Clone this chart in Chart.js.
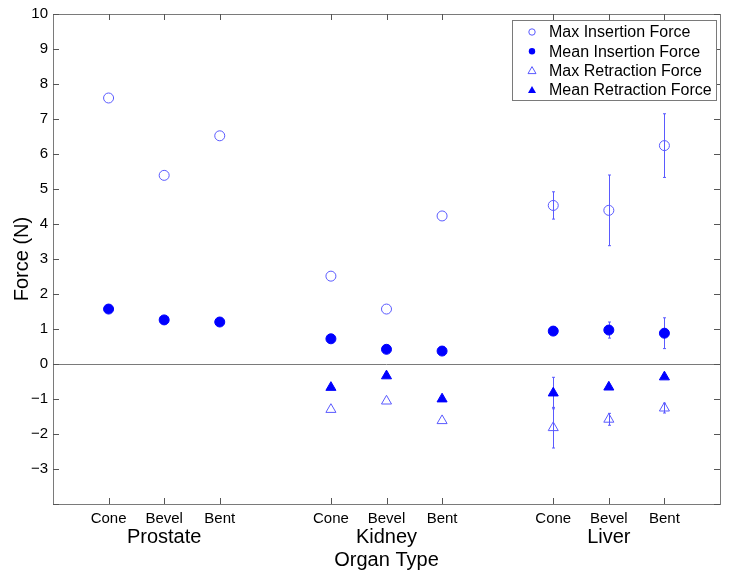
<!DOCTYPE html>
<html lang="en">

<head>
  <meta charset="UTF-8">
  <title>Needle Force by Organ Type</title>
  <script src="https://cdn.jsdelivr.net/npm/chart.js"></script>
  <style>
    body { margin: 0; background: #fff; }
    #wrap { width: 729px; height: 578px; }
  </style>
</head>

<body>
  <div id="wrap"><canvas id="chart"></canvas></div>

  <script>
    // tip types per organ, placed at x = 1..3, 5..7, 9..11
    const categories = ["Cone", "Bevel", "Bent", "Cone", "Bevel", "Bent", "Cone", "Bevel", "Bent"];
    const positions = [1, 2, 3, 5, 6, 7, 9, 10, 11];
    const organs = ["Prostate", "Kidney", "Liver"];
    const organCenters = [2, 6, 10];
    const yTicks = [-4, -3, -2, -1, 0, 1, 2, 3, 4, 5, 6, 7, 8, 9, 10];

    const maxInsertion = [7.6, 5.39, 6.52, 2.51, 1.57, 4.23, 4.53, 4.39, 6.24];
    const maxInsertionErr = [0, 0, 0, 0, 0, 0, 0.39, 1.01, 0.91];
    const meanInsertion = [1.57, 1.26, 1.2, 0.72, 0.42, 0.37, 0.94, 0.97, 0.88];
    const meanInsertionErr = [0, 0, 0, 0, 0, 0, 0.04, 0.23, 0.44];
    const maxRetraction = [null, null, null, -1.3, -1.06, -1.62, -1.82, -1.58, -1.26];
    const maxRetractionErr = [0, 0, 0, 0, 0, 0, 0.58, 0.17, 0.14];
    const meanRetraction = [null, null, null, -0.67, -0.34, -1.0, -0.83, -0.66, -0.37];
    const meanRetractionErr = [0, 0, 0, 0, 0, 0, 0.45, 0, 0];

    const FONT = '"Liberation Sans", Arial, Helvetica, sans-serif';
    const lightBlue = "#5a5aff";
    const blue = "#0000ff";
    const axisGrey = "#7a7a7a";

    const series = [
      { label: "Max Insertion Force", values: maxInsertion, errors: maxInsertionErr, style: "circle", filled: false },
      { label: "Mean Insertion Force", values: meanInsertion, errors: meanInsertionErr, style: "circle", filled: true },
      { label: "Max Retraction Force", values: maxRetraction, errors: maxRetractionErr, style: "triangle", filled: false },
      { label: "Mean Retraction Force", values: meanRetraction, errors: meanRetractionErr, style: "triangle", filled: true }
    ];

    const toPoints = vals => positions.map((x, i) => ({ x: x, y: vals[i] })).filter(p => p.y !== null);

    // frame, zero line, inward ticks, organ names and error bars
    const framePlugin = {
      id: "frame",
      beforeDatasetsDraw(chart) {
        const { ctx, chartArea: a, scales: { x, y } } = chart;
        ctx.save();
        ctx.strokeStyle = axisGrey;
        ctx.lineWidth = 1;
        ctx.strokeRect(Math.round(a.left) + 0.5, Math.round(a.top) + 0.5, Math.round(a.right - a.left), Math.round(a.bottom - a.top));

        const y0 = Math.round(y.getPixelForValue(0)) + 0.5;
        ctx.beginPath();
        ctx.moveTo(a.left, y0);
        ctx.lineTo(a.right, y0);
        ctx.stroke();

        ctx.strokeStyle = "#555";
        ctx.beginPath();
        yTicks.forEach(v => {
          const py = Math.round(y.getPixelForValue(v)) + 0.5;
          ctx.moveTo(a.left, py); ctx.lineTo(a.left + 6, py);
          ctx.moveTo(a.right, py); ctx.lineTo(a.right - 6, py);
        });
        positions.forEach(v => {
          const px = Math.round(x.getPixelForValue(v)) + 0.5;
          ctx.moveTo(px, a.bottom); ctx.lineTo(px, a.bottom - 6);
          ctx.moveTo(px, a.top); ctx.lineTo(px, a.top + 6);
        });
        ctx.stroke();

        ctx.fillStyle = "#000";
        ctx.font = "20px " + FONT;
        ctx.textAlign = "center";
        ctx.textBaseline = "alphabetic";
        organs.forEach((name, i) => {
          ctx.fillText(name, x.getPixelForValue(organCenters[i]), a.bottom + 39);
        });

        ctx.strokeStyle = lightBlue;
        ctx.beginPath();
        series.forEach(s => {
          s.values.forEach((v, i) => {
            const e = s.errors[i];
            if (v === null || !e) return;
            const px = Math.round(x.getPixelForValue(positions[i])) + 0.5;
            const top = y.getPixelForValue(v + e);
            const bot = y.getPixelForValue(v - e);
            ctx.moveTo(px, top); ctx.lineTo(px, bot);
            ctx.moveTo(px - 1.5, top); ctx.lineTo(px + 1.5, top);
            ctx.moveTo(px - 1.5, bot); ctx.lineTo(px + 1.5, bot);
          });
        });
        ctx.stroke();
        ctx.restore();
      },
      afterDraw(chart) {
        const { ctx, chartArea: a } = chart;
        const left = a.right - 208, top = a.top + 6, w = 204, h = 80;
        ctx.save();
        ctx.fillStyle = "#fff";
        ctx.fillRect(left, top, w, h);
        ctx.strokeStyle = axisGrey;
        ctx.strokeRect(Math.round(left) + 0.5, Math.round(top) + 0.5, w, h);
        ctx.font = "16px " + FONT;
        ctx.textBaseline = "middle";
        ctx.textAlign = "left";
        series.forEach((s, i) => {
          const cy = top + 12 + i * 19.3;
          const cx = left + 20;
          ctx.beginPath();
          if (s.style === "circle") {
            ctx.arc(cx, cy, 3.2, 0, Math.PI * 2);
          } else {
            ctx.moveTo(cx, cy - 4); ctx.lineTo(cx + 4, cy + 3); ctx.lineTo(cx - 4, cy + 3); ctx.closePath();
          }
          if (s.filled) { ctx.fillStyle = blue; ctx.fill(); }
          else { ctx.strokeStyle = lightBlue; ctx.lineWidth = 1; ctx.stroke(); }
          ctx.fillStyle = "#000";
          ctx.fillText(s.label, left + 37, cy + 1);
        });
        ctx.restore();
      }
    };

    const datasets = series.map(s => ({
      label: s.label,
      data: toPoints(s.values),
      pointStyle: s.style,
      pointRadius: s.style === "circle" ? 5 : 5.8,
      pointBorderWidth: 1,
      borderColor: s.filled ? blue : lightBlue,
      backgroundColor: s.filled ? blue : "rgba(0,0,0,0)",
      showLine: false
    }));

    new Chart(document.getElementById("chart"), {
      type: "scatter",
      data: { datasets: datasets },
      plugins: [framePlugin],
      options: {
        responsive: true,
        maintainAspectRatio: false,
        animation: false,
        layout: { padding: { top: 12, right: 9, left: 0, bottom: 0 } },
        plugins: { legend: { display: false }, tooltip: { enabled: false } },
        scales: {
          x: {
            type: "linear",
            min: 0,
            max: 12,
            grid: { display: false, drawTicks: false },
            border: { display: false },
            afterBuildTicks: scale => { scale.ticks = positions.map(v => ({ value: v })); },
            ticks: {
              padding: 6,
              color: "#000",
              font: { family: FONT, size: 15 },
              maxRotation: 0,
              autoSkip: false,
              callback: v => categories[positions.indexOf(v)]
            },
            title: {
              display: true,
              text: "Organ Type",
              color: "#000",
              font: { family: FONT, size: 20 },
              padding: { top: 26, bottom: 6 }
            },
            afterFit: scale => { scale.height = 74; }
          },
          y: {
            min: -4,
            max: 10,
            grid: { display: false, drawTicks: false },
            border: { display: false },
            afterBuildTicks: scale => { scale.ticks = yTicks.map(v => ({ value: v })); },
            ticks: {
              padding: 5,
              color: "#000",
              font: { family: FONT, size: 15 },
              callback: v => v === -4 ? "" : (v < 0 ? "\u2212" + Math.abs(v) : String(v))
            },
            title: {
              display: true,
              text: "Force (N)",
              color: "#000",
              font: { family: FONT, size: 20 },
              padding: { top: 10, bottom: 4 }
            },
            afterFit: scale => { scale.width = 53; }
          }
        }
      }
    });
  </script>
</body>

</html>
